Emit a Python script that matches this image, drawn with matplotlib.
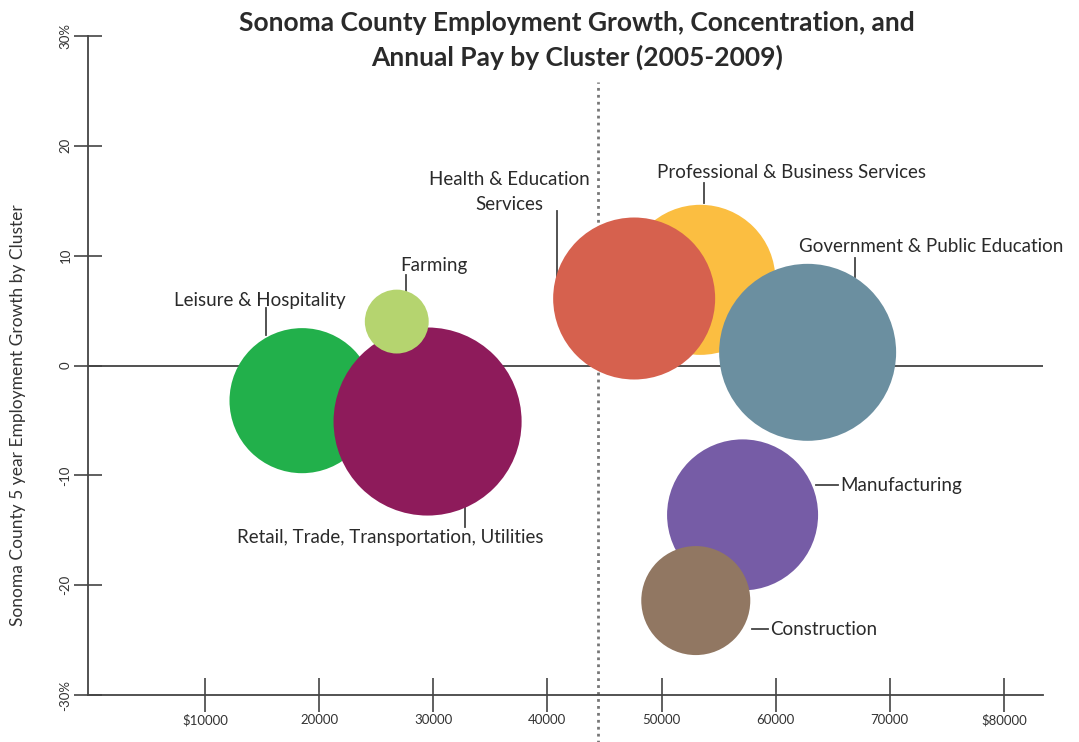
import matplotlib.pyplot as plt

# cluster data
clusters = ["Leisure & Hospitality", "Retail, Trade, Transportation, Utilities", "Farming",
            "Professional & Business Services", "Health & Education\nServices",
            "Government & Public Education", "Manufacturing", "Construction"]
annual_pay = [18500, 29500, 26800, 53400, 47600, 62800, 57100, 53000]
growth = [-3.2, -5.1, 4.0, 7.8, 6.1, 1.2, -13.6, -21.4]
employment = [52.6, 88.4, 10.2, 56.3, 65.6, 78.3, 57.0, 29.7]
colors = ["#22b04b", "#8e1b5b", "#b5d46f", "#fbbe41", "#d6614e", "#6b8fa0", "#765ca6", "#917762"]

x_ticks = [10000, 20000, 30000, 40000, 50000, 60000, 70000, 80000]
x_labels = ["$10000", "20000", "30000", "40000", "50000", "60000", "70000", "$80000"]
y_ticks = [-30, -20, -10, 0, 10, 20, 30]
y_labels = ["-30%", "-20", "-10", "0", "10", "20", "30%"]
pay_divider = 44400

plt.rcParams['font.family'] = ['Lato', 'DejaVu Sans']

fig = plt.figure(figsize=(10.79, 7.42), dpi=100)
ax = fig.add_axes([0.0816, 0.0633, 0.885, 0.8882])

ax.axhline(0, color="#333333", lw=1.2, zorder=1)
ax.axvline(pay_divider, ymin=-0.08, ymax=0.93, color="#777777", lw=2, ls=(0, (1, 1.5)),
           clip_on=False, zorder=1)

sizes = [e * 207.4 for e in employment]
ax.scatter(annual_pay, growth, s=sizes, c=colors, edgecolors="none", zorder=3)

# label text (x, y, ha) and leader lines
label_pos = [
    (14800, 5.9, "center"),
    (26200, -15.7, "center"),
    (30060, 9.1, "center"),
    (61430, 17.6, "center"),
    (36700, 15.8, "center"),
    (73600, 10.8, "center"),
    (65650, -10.9, "left"),
    (59500, -24.0, "left"),
]
leaders = [
    ([15350, 15350], [2.8, 5.2]),
    ([32780, 32780], [-12.9, -14.7]),
    ([27600, 27600], [8.2, 6.6]),
    ([53720, 53720], [16.6, 14.8]),
    ([40840, 40840], [14.1, 7.3]),
    ([66950, 66950], [9.8, 8.1]),
    ([63550, 65450], [-10.9, -10.9]),
    ([57900, 59300], [-24.0, -24.0]),
]
for name, (tx, ty, ha), (lx, ly) in zip(clusters, label_pos, leaders):
    ax.plot(lx, ly, color="#444444", lw=1.3, zorder=2)
    ax.text(tx, ty, name, ha=ha, va="center", fontsize=13.5, color="#2a2a2a",
            linespacing=1.6, zorder=4)

ax.set_xlim(-250, 83420)
ax.set_ylim(-30, 30)

ax.spines["top"].set_visible(False)
ax.spines["right"].set_visible(False)
for side in ["left", "bottom"]:
    ax.spines[side].set_color("#444444")
    ax.spines[side].set_linewidth(1.3)

ax.set_xticks(x_ticks)
ax.set_xticklabels(x_labels)
ax.set_yticks(y_ticks)
ax.set_yticklabels(y_labels, rotation=90, va="center")
ax.tick_params(axis="x", direction="inout", length=24, width=1.2, color="#444444",
               labelsize=9.5, pad=2, labelcolor="#333333")
ax.tick_params(axis="y", direction="inout", length=20, width=1.2, color="#444444",
               labelsize=9.5, pad=2, labelcolor="#333333")

fig.text(0.535, 0.905, "Sonoma County Employment Growth, Concentration, and\nAnnual Pay by Cluster (2005-2009)",
         ha="center", va="bottom", fontsize=19, fontweight="bold", color="#2a2a2a",
         linespacing=1.5)
fig.text(0.017, 0.44, "Sonoma County 5 year Employment Growth by Cluster", rotation=90,
         ha="center", va="center", fontsize=12.5, color="#333333")

plt.savefig("out.png", dpi=100)
